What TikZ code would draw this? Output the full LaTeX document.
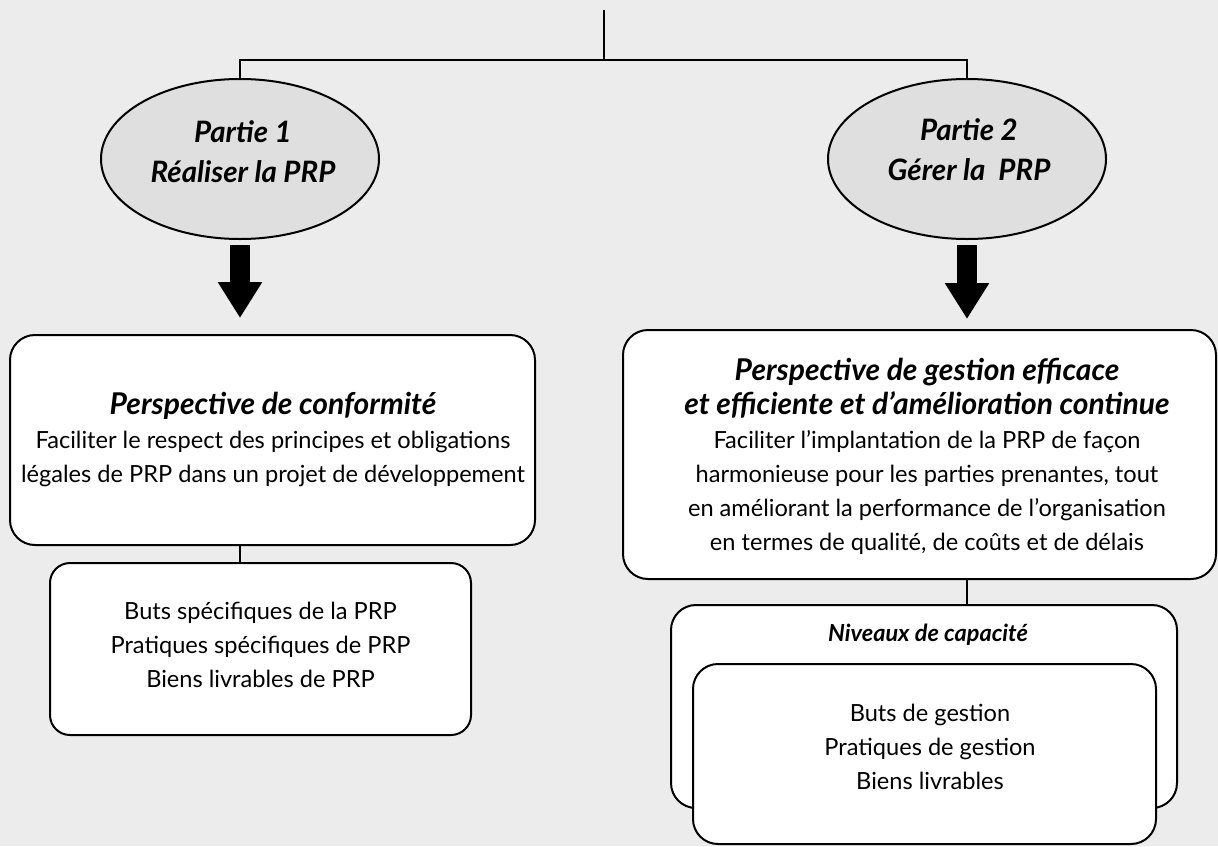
\documentclass[tikz,border=0pt]{standalone}
\usepackage{fontspec}
\setmainfont{Lato}
\usetikzlibrary{shapes.geometric,arrows.meta}
\definecolor{bgcol}{HTML}{ECECEC}
\definecolor{ellcol}{HTML}{DFDFDF}
\begin{document}
\begin{tikzpicture}[x=1pt,y=-1pt,
  line width=2pt,
  ell/.style={draw, ellipse, fill=ellcol, minimum width=278pt, minimum height=160pt, inner sep=0pt},
  bigbox/.style={draw, fill=white, rounded corners=25pt, inner sep=0pt},
  smallbox/.style={draw, fill=white, rounded corners=20pt, inner sep=0pt},
  elltext/.style={font=\fontsize{29.5}{40}\selectfont\bfseries\itshape, align=center},
  bodytext/.style={font=\fontsize{23.6}{34}\selectfont, align=center},
  bigarrow/.style={line width=20pt, -{Triangle[width=42pt,length=36pt]}},
  conn/.style={line width=2pt}
]
\useasboundingbox (0,0) rectangle (1218,846);
\fill[bgcol] (0,0) rectangle (1218,846);

% ellipses
\node[ell] (p1) at (240,159) {};
\node[elltext] (p1t) at (243,152) {Partie 1\\Réaliser la PRP};
\node[ell] (p2) at (967,159) {};
\node[elltext] (p2t) at (969,150) {Partie 2\\Gérer la\ \ PRP};

% top connectors
\coordinate (top) at (604,10);
\coordinate (junc) at (604,60);
\draw[conn] (top) -- (junc) -| (p1.north);
\draw[conn] (junc) -| (p2.north);

% left boxes
\node[bigbox, minimum width=525pt, minimum height=210pt] (lbox) at (272.5,440) {};
\node[bodytext] (lboxt) at (273,440) {{\fontsize{30}{36}\selectfont\bfseries\itshape Perspective de conformité}\\Faciliter le respect des principes et obligations\\légales de PRP dans un projet de développement};
\node[smallbox, minimum width=421pt, minimum height=172pt] (lsmall) at (260.5,649) {};
\node[bodytext] (lsmallt) at (260.5,645) {Buts spécifiques de la PRP\\Pratiques spécifiques de PRP\\Biens livrables de PRP};

% right boxes
\node[bigbox, minimum width=593pt, minimum height=249pt] (rbox) at (919.5,454.5) {};
\node[bodytext] (rboxt) at (927,456) {{\fontsize{30}{40}\selectfont\bfseries\itshape Perspective de gestion efficace}\\{\fontsize{30}{40}\selectfont\bfseries\itshape et efficiente et d’amélioration continue}\\Faciliter l’implantation de la PRP de façon\\harmonieuse pour les parties prenantes, tout\\en améliorant la performance de l’organisation\\en termes de qualité, de coûts et de délais};
\node[bigbox, minimum width=506pt, minimum height=203pt] (outer) at (924,706.5) {};
\node[font=\fontsize{23.5}{28}\selectfont\bfseries\itshape] (outert) at (928,635) {Niveaux de capacité};
\node[bigbox, minimum width=463pt, minimum height=180pt] (inner) at (924.5,754) {};
\node[bodytext] (innert) at (930,746.5) {Buts de gestion\\Pratiques de gestion\\Biens livrables};

% thick arrows
\coordinate (a1) at (p1 |- lbox.north);
\coordinate (a2) at (p2 |- rbox.north);
\draw[bigarrow] ([yshift=-5pt]p1.south) -- ([yshift=16pt]a1);
\draw[bigarrow] ([yshift=-5pt]p2.south) -- ([yshift=10pt]a2);

% box connectors
\coordinate (c1a) at (p1 |- lbox.south);
\coordinate (c1b) at (p1 |- lsmall.north);
\draw[conn] (c1a) -- (c1b);
\coordinate (c2a) at (p2 |- rbox.south);
\coordinate (c2b) at (p2 |- outer.north);
\draw[conn] (c2a) -- (c2b);
\end{tikzpicture}
\end{document}
